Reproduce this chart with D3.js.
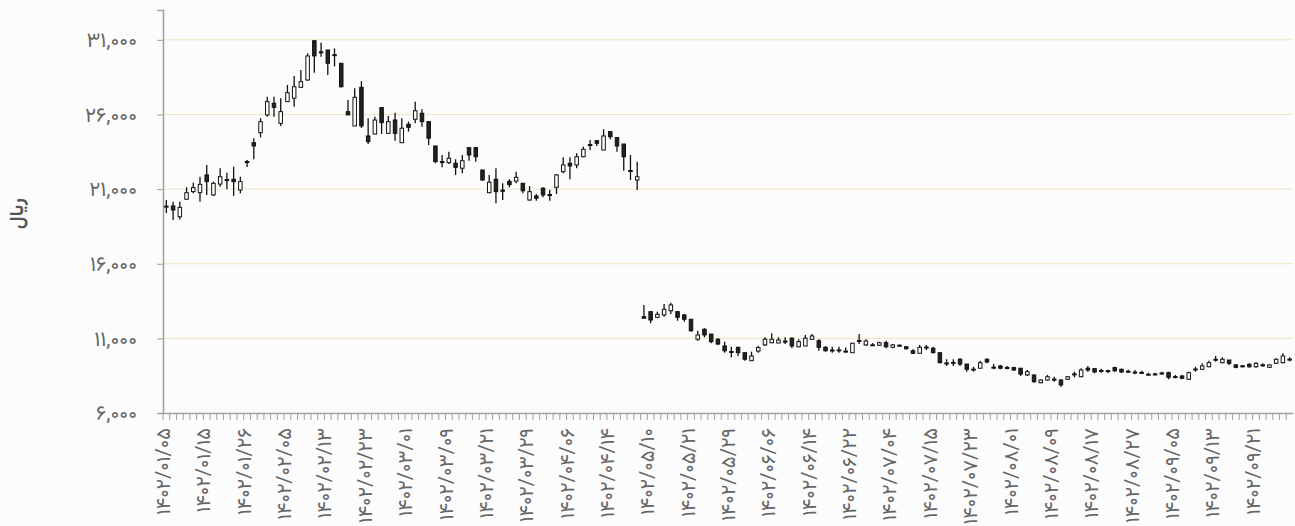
<!DOCTYPE html>
<html>
<head>
<meta charset="utf-8">
<script src="https://cdn.jsdelivr.net/npm/d3@7"></script>
<style>
  body { margin: 0; background: #fcfcfc; overflow: hidden; }
  svg { display: block; }
</style>
</head>
<body>
<div id="chart"></div>
<script>
////////////////////////////////////////////////////////////////////////
// Data: daily OHLC prices (rial)

let open = [19800,19870,19150,20320,20830,20760,21950,20610,21340,21590,21660,20940,22850,24110,24780,25970,26750,25410,26860,27090,
  27820,28310,30940,30200,30320,29960,29430,26190,25230,27820,24560,24690,26460,24740,25630,24110,25340,25680,26080,25520,
  23890,22850,22770,22730,22400,23780,23780,22280,20760,21660,20930,21520,21540,21390,20270,20540,21060,20570,21120,22170,
  22730,22620,23170,23920,24240,23620,24850,24450,24020,22250,21610,12450,12790,12410,12570,12850,12790,12570,12280,10940,
  11610,11290,10940,10490,10120,10400,10040,9500,10150,10560,10710,10690,10820,11010,10440,10490,10940,10840,10400,10220,
  10200,10150,10040,10860,10560,10540,10540,10710,10400,10540,10440,10170,10000,10400,10340,10040,9350,9360,9600,9280,
  8920,9000,9600,9050,9150,9050,9040,9000,8550,8550,8030,8210,8250,8210,8260,8600,8430,9000,8970,8830,
  8840,9040,8930,8800,8730,8720,8600,8610,8660,8700,8440,8480,8260,8930,8930,9100,9580,9370,9550,9220,
  9160,9260,9100,9220,9060,9330,9370,9590];
let high = [20270,20160,20160,21120,21430,21830,22620,21500,22400,22100,22500,21830,22950,24400,25750,27190,27190,27090,27980,28580,
  28980,30100,30990,30810,30330,30430,29450,26970,27750,28240,25750,25850,26460,25900,26120,25750,25520,26860,26350,25530,
  23900,23290,23510,23000,23290,23780,23780,22290,21950,22400,21390,21660,22170,21400,21210,20670,21120,20940,22010,23130,
  23130,23400,23840,24290,24290,25010,24860,24450,24030,23290,22840,13240,12790,12790,13300,13390,12790,12630,12280,11510,
  11680,11300,11010,10780,10440,10440,10040,10110,10490,11070,11340,11070,11070,11070,10940,11230,11290,10940,10490,10440,
  10440,10380,10710,11290,10940,10690,10780,10840,10620,10600,10450,10270,10560,10560,10440,10040,9600,9600,9670,9290,
  9100,9500,9670,9280,9220,9150,9100,9000,8880,8550,8260,8550,8430,8260,8480,8770,9000,9150,9000,8970,
  8900,9100,8970,8900,8880,8830,8700,8700,8770,8770,8550,8550,8770,9100,9330,9500,9820,9730,9550,9280,
  9220,9330,9400,9330,9250,9670,10000,9730];
let low = [19400,18930,18970,20320,20720,20160,20610,20540,21160,20990,20540,20720,22480,23000,24470,25850,25850,25230,26860,26520,
  27820,28260,28800,29870,28650,29220,27800,25970,25230,25100,24020,24690,24690,24740,24240,24110,24850,25410,25180,23960,
  22730,22460,22680,21950,22060,22900,22840,21560,20720,20050,20270,21120,21390,20720,20220,20220,20450,20220,20670,22060,
  21660,22400,23130,23620,23890,23620,24340,23510,22230,21610,20940,12340,12010,12350,12450,12630,12180,12120,11450,10840,
  11070,10670,10560,10040,9730,9820,9500,9500,10040,10490,10670,10690,10620,10340,10400,10490,10890,10170,10110,10040,
  10040,10040,10040,10620,10490,10490,10490,10340,10340,10480,10230,9950,10000,10220,10000,9330,9150,9150,9150,8770,
  8770,9000,9330,8930,8930,8930,8830,8480,8480,8030,7990,8160,8100,7760,8210,8390,8390,8770,8660,8700,
  8680,8770,8680,8700,8590,8610,8500,8520,8570,8260,8330,8260,8210,8770,8880,9060,9440,9330,9220,9000,
  9060,9040,9040,9100,9040,9280,9330,9460];
let close = [19860,19600,19780,20760,21100,21320,21500,21390,21830,21640,21500,21500,22780,23890,25520,26860,26480,26190,27460,27860,
  28200,29920,29920,30130,29430,30010,27860,25970,27150,25230,24180,25630,25450,25520,24740,25080,25140,26250,25520,24410,
  22840,22780,23070,22460,22900,23290,23170,21610,21460,20830,20860,21300,21790,20890,20830,20390,20610,20640,21950,22620,
  22550,23170,23670,23990,24070,24560,24510,23890,23170,22210,21830,12350,12230,12610,12950,13240,12410,12280,11510,11230,
  11230,10780,10620,10170,10090,10040,9600,9820,10380,10940,10940,10890,10790,10490,10780,11010,11160,10400,10170,10190,
  10230,10120,10670,10820,10820,10570,10710,10440,10560,10520,10310,10000,10400,10420,10040,9370,9320,9390,9280,8930,
  8940,9370,9420,9070,9000,9030,8880,8610,8770,8100,8210,8430,8270,7880,8430,8620,8880,8880,8750,8850,
  8810,8830,8750,8790,8740,8700,8590,8620,8680,8390,8420,8330,8700,8950,9150,9370,9600,9600,9330,9060,
  9140,9100,9330,9230,9220,9600,9820,9610];

// x-axis labels, one every 6 trading days
let tickLabels = ["۱۴۰۲/۰۱/۰۵","۱۴۰۲/۰۱/۱۵","۱۴۰۲/۰۱/۲۶","۱۴۰۲/۰۲/۰۵","۱۴۰۲/۰۲/۱۳","۱۴۰۲/۰۲/۲۳",
  "۱۴۰۲/۰۳/۰۱","۱۴۰۲/۰۳/۰۹","۱۴۰۲/۰۳/۲۱","۱۴۰۲/۰۳/۲۹","۱۴۰۲/۰۴/۰۶","۱۴۰۲/۰۴/۱۴",
  "۱۴۰۲/۰۵/۱۰","۱۴۰۲/۰۵/۲۱","۱۴۰۲/۰۵/۲۹","۱۴۰۲/۰۶/۰۶","۱۴۰۲/۰۶/۱۴","۱۴۰۲/۰۶/۲۲",
  "۱۴۰۲/۰۷/۰۴","۱۴۰۲/۰۷/۱۵","۱۴۰۲/۰۷/۲۳","۱۴۰۲/۰۸/۰۱","۱۴۰۲/۰۸/۰۹","۱۴۰۲/۰۸/۱۷",
  "۱۴۰۲/۰۸/۲۷","۱۴۰۲/۰۹/۰۵","۱۴۰۲/۰۹/۱۳","۱۴۰۲/۰۹/۲۱"];
let labelEvery = 6;

let yTicks = [6000, 11000, 16000, 21000, 26000, 31000];
let yDomain = [6000, 33000];
let yTitle = "ریال";

////////////////////////////////////////////////////////////////////////
// Layout

let width = 1295;
let height = 526;
let margin = ({top: 10, right: 2, bottom: 113, left: 163});
let fontFamily = "Vazirmatn, Vazir, Tahoma, 'DejaVu Sans', sans-serif";

// turn latin digits into persian ones
function toPersian(s) {
  return String(s).replace(/\d/g, c => "۰۱۲۳۴۵۶۷۸۹"[+c]);
}

let candles = d3.range(open.length).map(i => ({
  i: i, o: open[i], h: high[i], l: low[i], c: close[i]
}));

let svg = d3.select("#chart")
  .append("svg")
  .attr("width", width).attr("height", height);

svg.append("rect")
  .attr("width", width).attr("height", height)
  .attr("fill", "#fcfcfc");

let xScale = d3.scaleBand()
  .domain(candles.map(d => d.i))
  .range([margin.left, width - margin.right]);

let yScale = d3.scaleLinear()
  .domain(yDomain)
  .range([height - margin.bottom, margin.top]);

// horizontal grid lines
svg.append("g")
  .selectAll("line")
  .data(yTicks.filter(t => t > yDomain[0]))
  .enter()
  .append("line")
  .attr("x1", margin.left)
  .attr("x2", width - margin.right)
  .attr("y1", d => yScale(d))
  .attr("y2", d => yScale(d))
  .attr("stroke", "#f3e3c3")
  .attr("stroke-width", 1);

// y axis
let yAxis = g => g
  .attr("transform", `translate(${margin.left},0)`)
  .call(d3.axisLeft(yScale).tickValues(yTicks).tickSize(6).tickPadding(20)
    .tickFormat(d => toPersian(d3.format(",")(d))));

let yg = svg.append("g").attr("id", "y_axis").call(yAxis);
yg.select(".domain").attr("stroke", "#a0a0a0").attr("stroke-width", 1.5);
yg.selectAll(".tick line").attr("stroke", "#a0a0a0");
yg.selectAll(".tick text")
  .attr("fill", "#666")
  .style("font-family", fontFamily)
  .style("font-size", "21px");

// x axis: a tick at each trading day, label every 6th
let xAxis = g => g
  .attr("transform", `translate(0,${height - margin.bottom})`)
  .call(d3.axisBottom(xScale).tickSize(7).tickSizeOuter(0).tickFormat(""));

let xg = svg.append("g").attr("id", "x_axis").call(xAxis);
xg.select(".domain").attr("stroke", "#a0a0a0").attr("stroke-width", 1.5);
xg.selectAll(".tick")
  .attr("transform", d => `translate(${xScale(d)},0)`);
xg.selectAll(".tick line").attr("stroke", "#a0a0a0");

xg.selectAll(".xlabel")
  .data(tickLabels)
  .enter()
  .append("text")
  .attr("class", "xlabel")
  .attr("transform", (d, k) => `translate(${xScale(k * labelEvery)},15) rotate(-90)`)
  .attr("dy", "0.35em")
  .attr("text-anchor", "end")
  .attr("fill", "#666")
  .style("font-family", fontFamily)
  .style("font-size", "20px")
  .text(d => d);

// y title
svg.append("text")
  .attr("transform", `translate(16,${(margin.top + height - margin.bottom) / 2 + 2}) rotate(-90)`)
  .attr("text-anchor", "middle")
  .attr("dy", "0.35em")
  .attr("fill", "#555")
  .style("font-family", fontFamily)
  .style("font-size", "19px")
  .style("font-weight", "bold")
  .text(yTitle);

// candles
let bodyWidth = 3.5;
let cg = svg.append("g").attr("id", "candles");

let candle = cg.selectAll("g")
  .data(candles)
  .enter()
  .append("g")
  .attr("transform", d => `translate(${xScale(d.i) + xScale.bandwidth() / 2},0)`);

candle.append("line")
  .attr("y1", d => yScale(d.h))
  .attr("y2", d => yScale(d.l))
  .attr("stroke", "#111")
  .attr("stroke-width", 1.3);

candle.append("rect")
  .attr("x", -bodyWidth / 2)
  .attr("y", d => yScale(Math.max(d.o, d.c)))
  .attr("width", bodyWidth)
  .attr("height", d => Math.max(1, Math.abs(yScale(d.o) - yScale(d.c))))
  .attr("fill", d => d.c >= d.o ? "#ffffff" : "#222")
  .attr("stroke", "#111")
  .attr("stroke-width", 1);
</script>
</body>
</html>
